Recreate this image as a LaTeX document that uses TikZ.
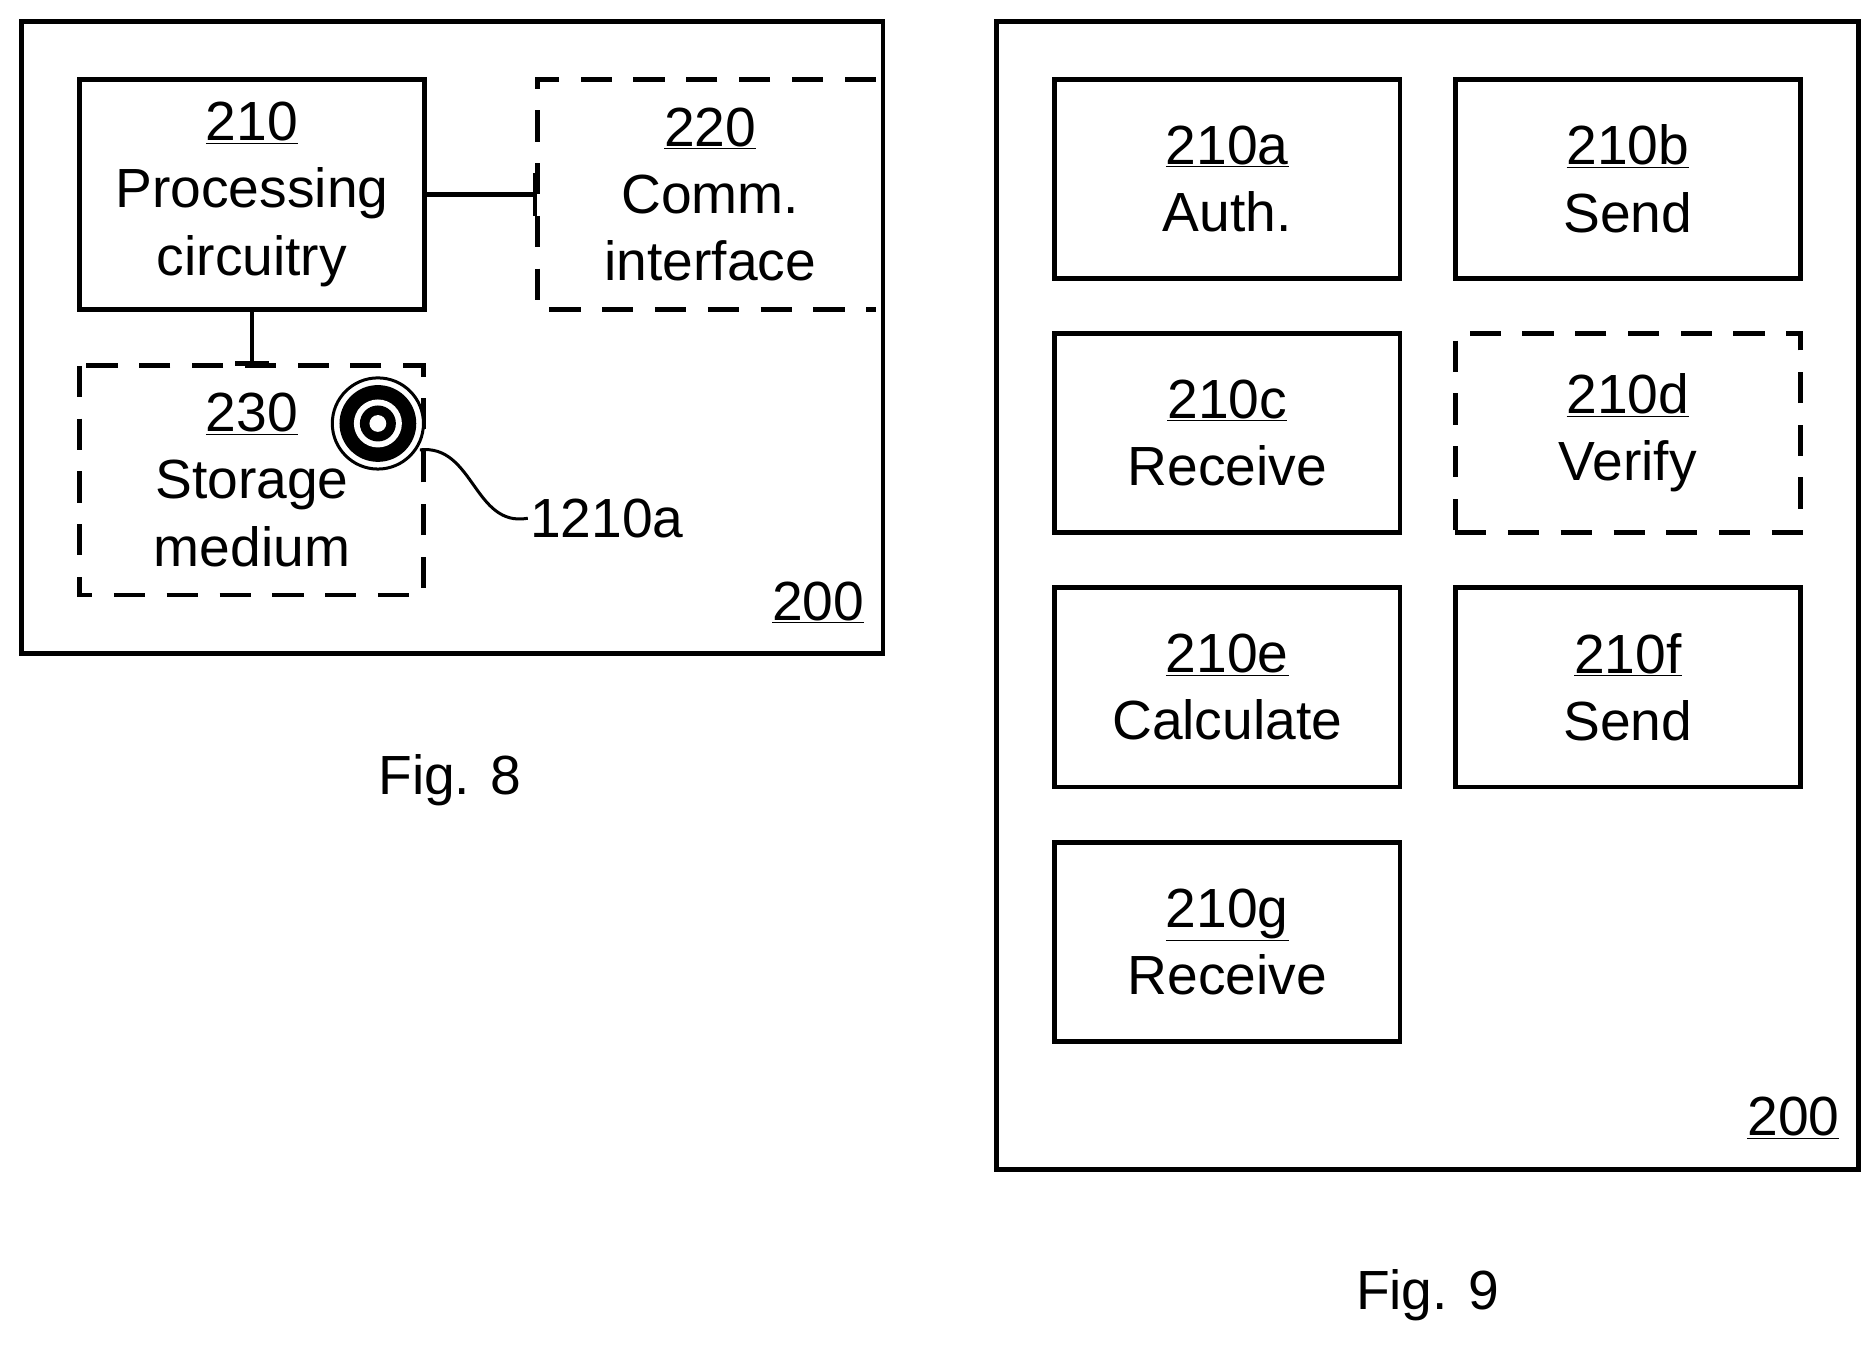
\documentclass[tikz,border=0pt]{standalone}
\usepackage{fontspec}
\setmainfont{Liberation Sans}
\usetikzlibrary{arrows.meta}
\tikzset{every picture/.style={line width=4pt}}
\tikzset{
  blk/.style={draw, minimum width=288pt, minimum height=166pt, align=center, font=\fontsize{46}{56}\selectfont, inner sep=0pt},
  dsh/.style={dash pattern=on 26pt off 18pt},
  lbl/.style={font=\fontsize{46}{56}\selectfont, inner sep=0pt}
}
\begin{document}
\begin{tikzpicture}[x=1pt,y=1pt,yscale=-1]
	\useasboundingbox (0,0) rectangle (1563,1122);

	% Fig. 8
	\draw (18,18) rectangle (736,545);
	\node [blk, minimum height=192pt] (pc) at (210,162) {\underline{210}\\Processing\\circuitry};
	\draw [dsh] (730,66) -- (448,66) -- (448,258) -- (730,258);
	\node [lbl, align=center] (ci) at (592,162) {\underline{220}\\Comm.\\interface};
	\coordinate (ciw) at (448,162);
	\draw [dsh] (66,305) rectangle (353,496);
	\node [lbl, align=center] (sm) at (210,400) {\underline{230}\\Storage\\medium};
	\coordinate (smn) at (210,305);
	\draw [-{Bar[width=36pt,line width=4pt]}] (pc.east) -- (ciw);
	\draw [-{Bar[width=28pt,line width=4pt]}] (pc.south) -- (smn);
	% disk
	\coordinate (dk) at (315,353);
	\fill [white] (dk) circle (38);
	\draw [line width=2.5pt] (dk) circle (38);
	\fill (dk) circle (32);
	\fill [white] (dk) circle (20);
	\fill (dk) circle (15);
	\fill [white] (dk) circle (7);
	\node [lbl, anchor=west] (dl) at (440,432) {1210a};
	\draw [line width=2.5pt] (350,375) .. controls (395,370) and (395,440) .. (dl.west);
	\node [lbl] (n8) at (682,502) {\underline{200}};
	\node [lbl] (f8) at (375,650) {Fig. 8};

	% Fig. 9
	\draw (831,18) rectangle (1549,975);
	\node [blk] (a) at (1023,149) {\underline{210a}\\Auth.};
	\node [blk] (b) at (1357,149) {\underline{210b}\\Send};
	\node [blk] (c) at (1023,361) {\underline{210c}\\Receive};
	\node [blk, dsh] (d) at (1357,361) {\underline{210d}\\Verify};
	\node [blk] (e) at (1023,573) {\underline{210e}\\Calculate};
	\node [blk] (f) at (1357,573) {\underline{210f}\\Send};
	\node [blk] (g) at (1023,785) {\underline{210g}\\Receive};
	\node [lbl] (n9) at (1495,932) {\underline{200}};
	\node [lbl] (f9) at (1190,1080) {Fig. 9};
\end{tikzpicture}
\end{document}
